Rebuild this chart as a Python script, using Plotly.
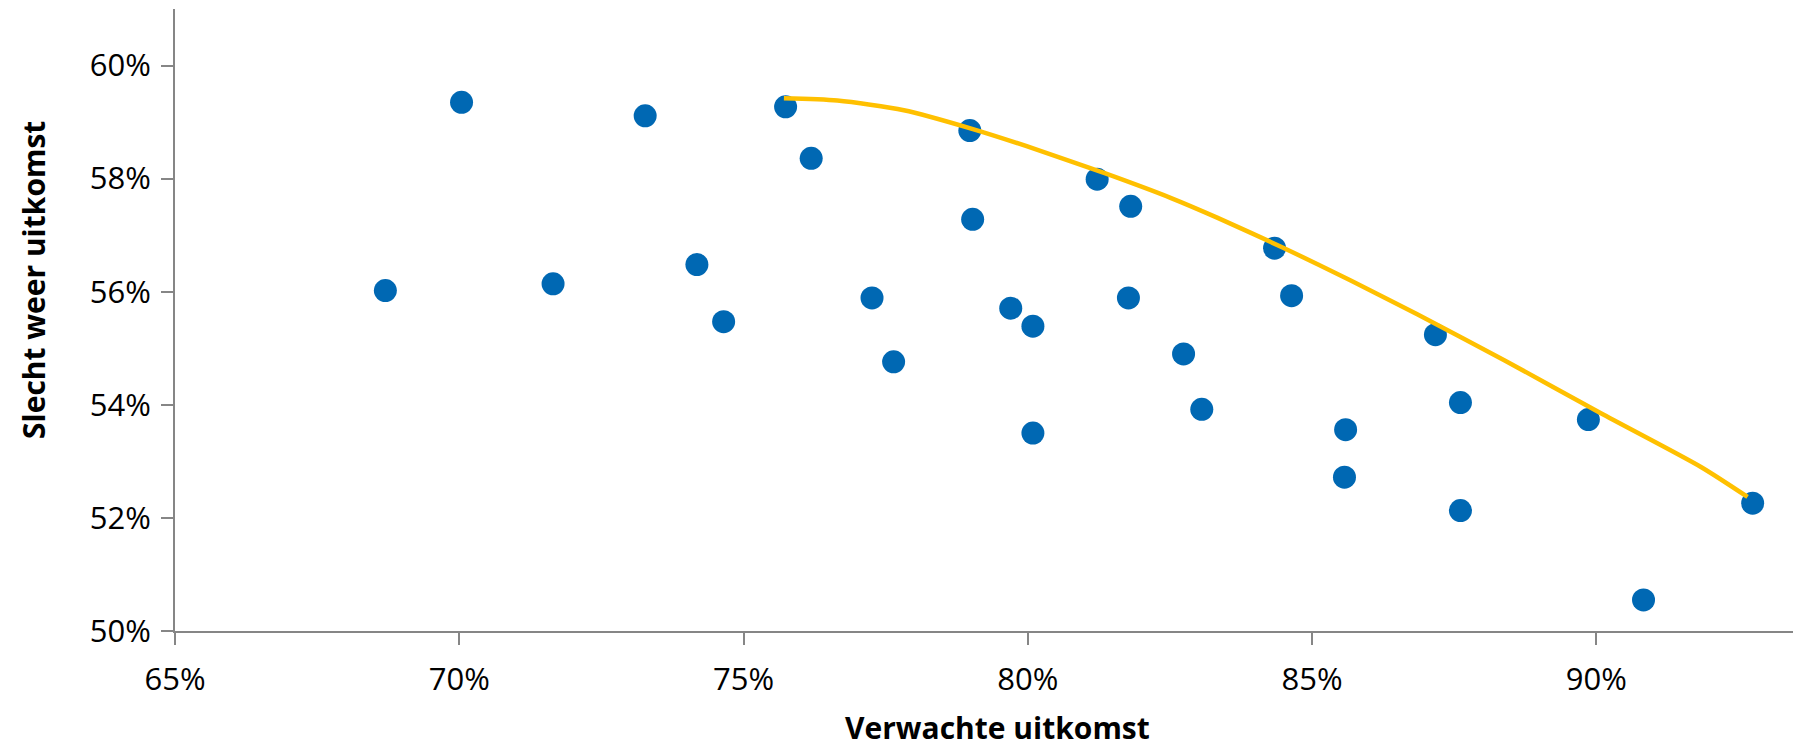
import plotly.graph_objects as go

# Scatter data (fractions)
verwacht = [0.6870, 0.7004, 0.7165, 0.7327, 0.7418, 0.7465, 0.7574, 0.7619, 0.7726, 0.7764,
            0.7898, 0.7903, 0.7970, 0.8009, 0.8009, 0.8122, 0.8181, 0.8177, 0.8274, 0.8306,
            0.8434, 0.8464, 0.8559, 0.8557, 0.8717, 0.8761, 0.8761, 0.8986, 0.9083, 0.9275]
slecht = [0.5602, 0.5935, 0.5614, 0.5911, 0.5648, 0.5547, 0.5927, 0.5836, 0.5589, 0.5476,
          0.5885, 0.5728, 0.5571, 0.5539, 0.5350, 0.5799, 0.5751, 0.5589, 0.5490, 0.5392,
          0.5677, 0.5593, 0.5356, 0.5272, 0.5524, 0.5404, 0.5213, 0.5374, 0.5055, 0.5226]

# Frontier curve points
trend_x = [0.7571, 0.7665, 0.7782, 0.7899, 0.8017, 0.8134, 0.8251, 0.8333, 0.8451, 0.8568,
           0.8685, 0.8838, 0.9008, 0.9184, 0.9266]
trend_y = [0.5942, 0.5938, 0.5921, 0.5889, 0.5851, 0.5810, 0.5766, 0.5731, 0.5677, 0.5620,
           0.5560, 0.5479, 0.5385, 0.5290, 0.5237]

x_ticks = [0.65, 0.70, 0.75, 0.80, 0.85, 0.90]
y_ticks = [0.50, 0.52, 0.54, 0.56, 0.58, 0.60]

fig = go.Figure()
fig.add_trace(go.Scatter(x=verwacht, y=slecht, mode="markers",
                         marker=dict(size=23, color="#0068B3"), showlegend=False))
fig.add_trace(go.Scatter(x=trend_x, y=trend_y, mode="lines",
                         line=dict(color="#FFC000", width=4.5, shape="spline", smoothing=0.7),
                         showlegend=False))

axis_common = dict(showgrid=False, zeroline=False, showline=True, linecolor="#868686", linewidth=2,
                   ticks="outside", ticklen=12, tickwidth=2, tickcolor="#868686",
                   tickformat=".0%", tickfont=dict(family="Open Sans", size=31, color="#000000"))

fig.update_xaxes(range=[0.65, 0.936], tickvals=x_ticks, ticklabelstandoff=8, **axis_common)
fig.update_yaxes(range=[0.50, 0.61], tickvals=y_ticks, ticklabelstandoff=4, **axis_common)

# Page body has an 8px margin; plot area spans page x 175..1801, y 9..631
fig.add_annotation(text="<b>Verwachte uitkomst</b>", xref="paper", yref="paper",
                   x=(997 - 175) / 1626, y=(631 - 727) / 622, showarrow=False,
                   xanchor="center", yanchor="middle",
                   font=dict(family="Open Sans", size=30, color="#000000"))
fig.add_annotation(text="<b>Slecht weer uitkomst</b>", xref="paper", yref="paper",
                   x=(33 - 175) / 1626, y=(631 - 280) / 622, showarrow=False,
                   xanchor="center", yanchor="middle", textangle=-90,
                   font=dict(family="Open Sans", size=30, color="#000000"))

fig.update_layout(width=1793, height=740, margin=dict(l=167, r=0, t=1, b=117),
                  plot_bgcolor="white", paper_bgcolor="white")

fig.write_html("out.html")
